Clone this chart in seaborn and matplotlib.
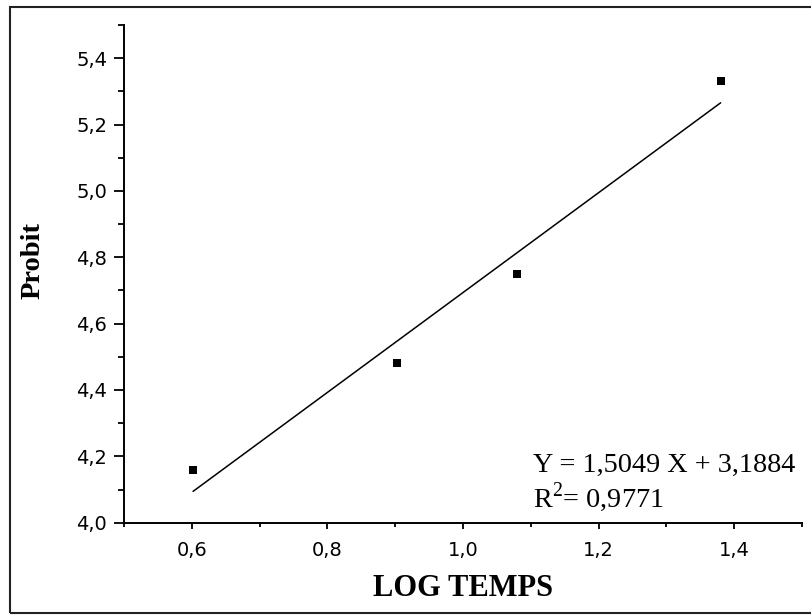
import pandas as pd
import matplotlib
import matplotlib.pyplot as plt
import seaborn as sns
from matplotlib.patches import Rectangle
from matplotlib.ticker import MultipleLocator

matplotlib.use('Agg')

# Data (log of time vs probit)
log_temps = [0.602, 0.903, 1.079, 1.380]
probit = [4.16, 4.48, 4.75, 5.33]

x_ticks = [0.6, 0.8, 1.0, 1.2, 1.4]
x_tick_labels = ['0,6', '0,8', '1,0', '1,2', '1,4']
y_ticks = [4.0, 4.2, 4.4, 4.6, 4.8, 5.0, 5.2, 5.4]
y_tick_labels = ['4,0', '4,2', '4,4', '4,6', '4,8', '5,0', '5,2', '5,4']

equation_text = 'Y = 1,5049 X + 3,1884'
r2_text = 'R$^{\\mathregular{2}}$= 0,9771'

data = pd.DataFrame({'log_temps': log_temps, 'probit': probit})

sns.set_style('ticks')
plt.rcParams['font.family'] = ['DejaVu Sans']
plt.rcParams['text.color'] = 'black'
plt.rcParams['axes.labelcolor'] = 'black'

fig = plt.figure(figsize=(8.12, 6.15), dpi=100)
ax = fig.add_axes([0.1526, 0.1501, 0.8351, 0.8092])

# Points + least squares line (drawn over the data range only)
sns.regplot(data=data, x='log_temps', y='probit', ci=None, marker='s', ax=ax,
            scatter_kws={'s': 30, 'color': 'black', 'linewidths': 0, 'alpha': 1},
            line_kws={'color': 'black', 'linewidth': 1.1})

ax.set_xlim(0.5, 1.5)
ax.set_ylim(4.0, 5.5)
ax.set_xticks(x_ticks)
ax.set_xticklabels(x_tick_labels)
ax.set_yticks(y_ticks)
ax.set_yticklabels(y_tick_labels)
ax.xaxis.set_minor_locator(MultipleLocator(0.1))
ax.yaxis.set_minor_locator(MultipleLocator(0.1))

ax.tick_params(axis='both', which='both', direction='out', width=1.3,
               labelsize=14, colors='black')
ax.tick_params(axis='x', which='major', length=4, pad=9)
ax.tick_params(axis='x', which='minor', length=3)
ax.tick_params(axis='y', which='major', length=7, pad=5)
ax.tick_params(axis='y', which='minor', length=4.3)

sns.despine(ax=ax)
for side in ['left', 'bottom']:
    ax.spines[side].set_linewidth(1.4)
    ax.spines[side].set_color('black')

ax.set_xlabel('LOG TEMPS', family='Liberation Serif', fontweight='bold',
              fontsize=22, va='center')
ax.set_ylabel('Probit', family='Liberation Serif', fontweight='bold',
              fontsize=20.5, va='center')
ax.xaxis.set_label_coords(0.5, -0.132)
ax.yaxis.set_label_coords(-0.1338, 0.527)

ax.text(1.1034, 4.153, equation_text, family='Liberation Serif',
        fontsize=20.3, va='baseline', ha='left')
ax.text(1.1034, 4.048, r2_text, family='Liberation Serif',
        fontsize=20.3, va='baseline', ha='left')

# Frame round the whole picture (right side is cut off in the original)
fig.patches.append(Rectangle((10 / 812, 2 / 615), 1.02, 1 - 9 / 615,
                             transform=fig.transFigure, fill=False,
                             edgecolor='#222222', linewidth=1.5))

plt.savefig('out.png', dpi=100)
plt.close()
